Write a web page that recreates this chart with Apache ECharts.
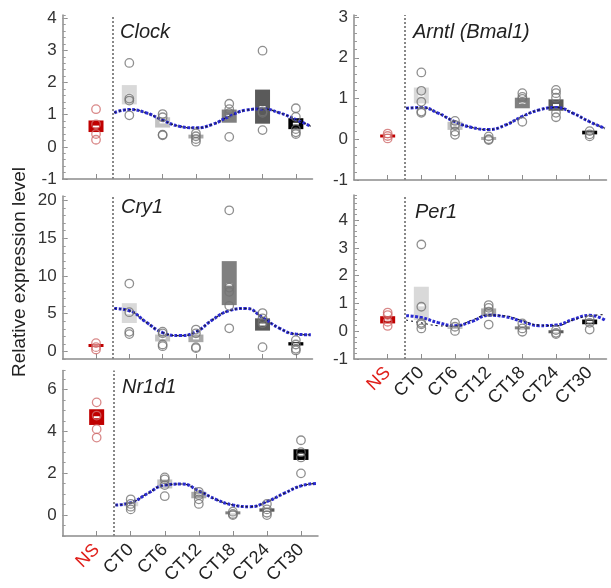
<!DOCTYPE html>
<html>
<head>
<meta charset="utf-8">
<script src="https://cdn.jsdelivr.net/npm/echarts@6/dist/echarts.min.js"></script>
<style>
  html, body { margin: 0; padding: 0; background: #fff; }
  #chart { width: 611px; height: 588px; }
</style>
</head>
<body>
<div id="chart"></div>
<script>
// x positions in hours, NS is drawn left of CT0
var catNames = ["NS", "CT0", "CT6", "CT12", "CT18", "CT24", "CT30"];
var catHours = [-6, 0, 6, 12, 18, 24, 30];
var fitHours = [-2.7, 0, 3, 6, 9, 12, 15, 18, 21, 24, 27, 30, 32.7];

// Clock
var clockLow = [0.46, 1.32, 0.6, 0.26, 0.75, 0.72, 0.55];
var clockHigh = [0.82, 1.92, 0.92, 0.38, 1.16, 1.78, 0.89];
var clockMean = [0.63, 1.62, 0.76, 0.32, 0.96, 1.24, 0.72];
var clockPts = [[1.17, 0.7, 0.4, 0.22], [2.61, 1.5, 1.44, 0.98], [1.02, 0.92, 0.38, 0.36], [0.42, 0.33, 0.24, 0.16],
  [1.34, 1.17, 1.05, 0.31], [2.99, 1.1, 1.06, 0.52], [1.2, 0.93, 0.55, 0.45, 0.4]];
var clockFit = [1.06, 1.16, 1.06, 0.83, 0.64, 0.59, 0.7, 0.95, 1.14, 1.18, 1.06, 0.85, 0.64];

// Arntl (Bmal1)
var arntlLow = [0.05, 0.88, 0.23, 0.0, 0.76, 0.7, 0.12];
var arntlHigh = [0.11, 1.27, 0.43, 0.04, 1.02, 0.98, 0.21];
var arntlMean = [0.08, 1.07, 0.33, 0.02, 0.89, 0.84, 0.16];
var arntlPts = [[0.14, 0.08, 0.02], [1.64, 1.19, 0.92, 0.68, 0.65], [0.45, 0.35, 0.19, 0.11], [0.07, 0.0, -0.02],
  [1.13, 1.04, 0.99, 0.43], [1.21, 1.13, 1.02, 0.65, 0.54], [0.2, 0.12, 0.07]];
var arntlFit = [0.76, 0.78, 0.64, 0.43, 0.29, 0.24, 0.35, 0.56, 0.72, 0.78, 0.64, 0.43, 0.27];

// Cry1
var cry1Low = [0.66, 3.77, 1.32, 1.23, 6.14, 2.76, 0.79];
var cry1High = [0.92, 6.4, 2.24, 2.24, 11.97, 4.39, 1.23];
var cry1Mean = [0.79, 5.1, 1.78, 1.73, 8.86, 3.57, 1.0];
var cry1Pts = [[1.1, 0.57, 0.26], [9.0, 5.2, 2.6, 2.3], [2.63, 2.4, 0.92, 0.7], [2.9, 2.4, 0.57, 0.44],
  [18.7, 8.46, 7.9, 6.05, 3.07], [5.09, 4.39, 3.73, 0.57], [1.5, 0.92, 0.35, 0.13]];
var cry1Fit = [5.7, 5.4, 3.9, 2.5, 2.1, 2.6, 4.2, 5.4, 5.7, 4.5, 3.1, 2.3, 2.2];

// Per1
var per1Low = [0.28, 0.4, 0.08, 0.54, 0.07, -0.06, 0.25];
var per1High = [0.54, 1.6, 0.22, 0.82, 0.17, 0.02, 0.42];
var per1Mean = [0.41, 0.93, 0.15, 0.68, 0.12, -0.02, 0.34];
var per1Pts = [[0.67, 0.58, 0.34, 0.19], [3.12, 0.88, 0.3, 0.25, 0.1], [0.3, 0.16, 0.01], [0.94, 0.84, 0.7, 0.24],
  [0.28, 0.1, -0.02], [0.04, -0.06, -0.1], [0.42, 0.3, 0.06]];
var per1Fit = [0.56, 0.49, 0.31, 0.2, 0.35, 0.57, 0.52, 0.35, 0.2, 0.22, 0.42, 0.57, 0.4];
var per1Fit2 = [0.4, 0.3, 0.2, 0.18, 0.4, 0.58, 0.55, 0.38, 0.22, 0.2, 0.4, 0.55, 0.6];

// Nr1d1
var nr1d1Low = [4.3, 0.42, 1.27, 0.8, 0.07, 0.16, 2.63];
var nr1d1High = [5.05, 0.62, 1.7, 1.11, 0.14, 0.32, 3.14];
var nr1d1Mean = [4.67, 0.52, 1.48, 0.95, 0.11, 0.24, 2.88];
var nr1d1Pts = [[5.38, 4.75, 4.1, 3.7], [0.75, 0.53, 0.4, 0.27], [1.8, 1.7, 1.43, 0.9], [1.11, 0.95, 0.75, 0.53],
  [0.16, 0.05, 0.0], [0.53, 0.27, 0.11, 0.0], [3.57, 3.0, 2.75, 1.99]];
var nr1d1Fit = [0.48, 0.59, 1.03, 1.43, 1.48, 1.16, 0.75, 0.48, 0.4, 0.64, 1.03, 1.39, 1.51];

var boxColors = ["#c00000", "#d9d9d9", "#c2c2c2", "#a8a8a8", "#808080", "#5a5a5a", "#000000"];
var FONT = "Liberation Sans";

var panels = [
  { name: "Clock", low: clockLow, high: clockHigh, mean: clockMean, pts: clockPts, fit: clockFit, fit2: clockFit,
    grid: { left: 62.7, top: 15, width: 249.8, height: 164 }, ymin: -1, ymax: 4.1, ticks: [-1, 0, 1, 2, 3, 4], minor: 0.2,
    tx: 120, ty: 22, xlab: false },
  { name: "Arntl (Bmal1)", low: arntlLow, high: arntlHigh, mean: arntlMean, pts: arntlPts, fit: arntlFit, fit2: arntlFit,
    grid: { left: 354, top: 15, width: 252.5, height: 165 }, ymin: -1, ymax: 3.05, ticks: [-1, 0, 1, 2, 3], minor: 0.2,
    tx: 413, ty: 22, xlab: false },
  { name: "Cry1", low: cry1Low, high: cry1High, mean: cry1Mean, pts: cry1Pts, fit: cry1Fit, fit2: cry1Fit,
    grid: { left: 62.7, top: 196, width: 249.8, height: 163 }, ymin: -1, ymax: 20.6, ticks: [0, 5, 10, 15, 20], minor: 1,
    tx: 121, ty: 197.5, xlab: false },
  { name: "Per1", low: per1Low, high: per1High, mean: per1Mean, pts: per1Pts, fit: per1Fit, fit2: per1Fit2,
    grid: { left: 354, top: 195, width: 252.5, height: 164 }, ymin: -1, ymax: 4.9, ticks: [-1, 0, 1, 2, 3, 4], minor: 0.2,
    tx: 415, ty: 202, xlab: true },
  { name: "Nr1d1", low: nr1d1Low, high: nr1d1High, mean: nr1d1Mean, pts: nr1d1Pts, fit: nr1d1Fit, fit2: nr1d1Fit,
    grid: { left: 62.6, top: 370.5, width: 255.4, height: 165.5 }, ymin: -1, ymax: 6.9, ticks: [0, 2, 4, 6], minor: 0.5,
    tx: 122, ty: 377, xlab: true }
];

var grids = [], xAxes = [], yAxes = [], series = [], graphics = [];

panels.forEach(function (p, i) {
  grids.push(p.grid);
  xAxes.push({
    gridIndex: i, type: "value", min: -12, max: 33,
    axisLine: { show: true, onZero: false, lineStyle: { color: "#8c8c8c", width: 1.5 } },
    axisTick: { show: true, inside: true, length: 5, customValues: catHours, lineStyle: { color: "#8c8c8c" } },
    axisLabel: {
      show: p.xlab, customValues: catHours, rotate: 45, margin: 11,
      fontSize: 18, fontFamily: FONT, color: "#222",
      formatter: function (v) { var k = catHours.indexOf(v); return k === 0 ? "{ns|NS}" : catNames[k]; },
      rich: { ns: { color: "#e0201b", fontSize: 18, fontFamily: FONT } }
    },
    splitLine: { show: false }
  });
  yAxes.push({
    gridIndex: i, type: "value", min: p.ymin, max: p.ymax, position: "left",
    axisLine: { show: true, onZero: false, lineStyle: { color: "#8c8c8c", width: 1.5 } },
    axisTick: { show: true, inside: true, length: 5, customValues: p.ticks, lineStyle: { color: "#8c8c8c" } },
    axisLabel: { customValues: p.ticks, fontSize: 17, fontFamily: FONT, color: "#333", margin: 6 },
    splitLine: { show: false }
  });
  // minor ticks
  yAxes.push({
    gridIndex: i, type: "value", min: p.ymin, max: p.ymax, interval: p.minor, position: "left",
    axisLine: { show: false, onZero: false },
    axisTick: { show: true, inside: true, length: 3, lineStyle: { color: "#9a9a9a" } },
    axisLabel: { show: false },
    splitLine: { show: false }
  });

  var boxData = catHours.map(function (h, k) { return [h, p.low[k], p.high[k], p.mean[k]]; });
  series.push({
    type: "custom", xAxisIndex: i, yAxisIndex: i * 2, z: 2,
    data: boxData,
    renderItem: function (params, api) {
      var x = api.value(0);
      var top = api.coord([x, api.value(2)]);
      var bot = api.coord([x, api.value(1)]);
      var mid = api.coord([x, api.value(3)]);
      var w = 15;
      var h = Math.max(bot[1] - top[1], 3);
      var cy = (top[1] + bot[1]) / 2;
      return {
        type: "group",
        children: [
          { type: "rect", shape: { x: top[0] - w / 2, y: cy - h / 2, width: w, height: h },
            style: { fill: boxColors[params.dataIndex] } },
          { type: "rect", shape: { x: mid[0] - 3, y: mid[1] - 1, width: 6, height: 2 },
            style: { fill: "#ffffff" } }
        ]
      };
    }
  });

  series.push({
    type: "line", xAxisIndex: i, yAxisIndex: i * 2, z: 3, smooth: true, symbol: "none", silent: true,
    data: fitHours.map(function (h, k) { return [h, p.fit[k]]; }),
    lineStyle: { color: "#2a2ad0", width: 3, type: [3, 1.5] }
  });
  series.push({
    type: "line", xAxisIndex: i, yAxisIndex: i * 2, z: 3, smooth: true, symbol: "none", silent: true,
    data: fitHours.map(function (h, k) { return [h, p.fit2[k]]; }),
    lineStyle: { color: "#1a1a2a", width: 1.1, type: [2, 3] }
  });

  var scat = [];
  p.pts.forEach(function (arr, k) {
    arr.forEach(function (v) {
      var item = { value: [catHours[k], v] };
      if (k === 0) item.itemStyle = { borderColor: "#cf6b6b" };
      scat.push(item);
    });
  });
  series.push({
    type: "scatter", xAxisIndex: i, yAxisIndex: i * 2, z: 4, symbol: "circle", symbolSize: 8.5,
    itemStyle: { color: "rgba(255,255,255,0)", borderColor: "#737373", borderWidth: 1.3 },
    data: scat,
    markLine: {
      silent: true, symbol: ["none", "none"], label: { show: false },
      lineStyle: { color: "#888888", width: 2, type: [2, 2] },
      data: [{ xAxis: -3 }]
    }
  });

  graphics.push({
    type: "text", left: p.tx, top: p.ty,
    style: { text: p.name, font: "italic 20px '" + FONT + "'", fill: "#222" }
  });
});

graphics.push({
  type: "text", x: 20, y: 272, rotation: Math.PI / 2,
  style: { text: "Relative expression level", font: "19px '" + FONT + "'", fill: "#222",
    align: "center", verticalAlign: "middle" }
});

var chart = echarts.init(document.getElementById("chart"));
chart.setOption({
  animation: false,
  backgroundColor: "#ffffff",
  grid: grids,
  xAxis: xAxes,
  yAxis: yAxes,
  series: series,
  graphic: graphics
});
</script>
</body>
</html>
